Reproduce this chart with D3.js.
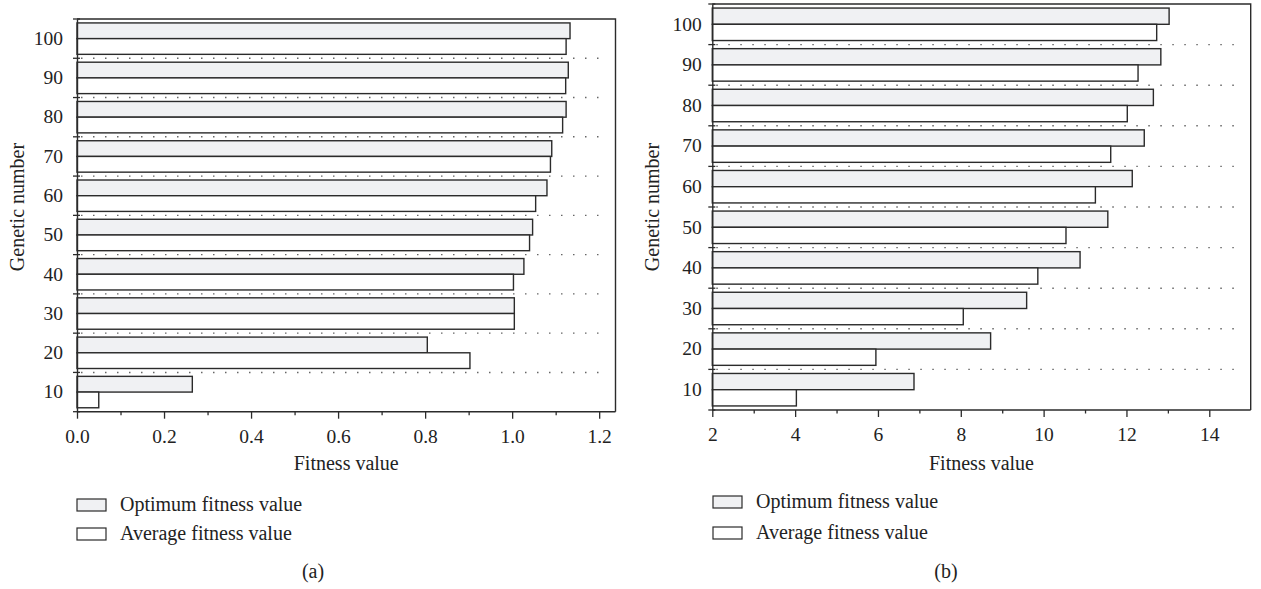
<!DOCTYPE html>
<html>
<head>
<meta charset="utf-8">
<script src="https://cdn.jsdelivr.net/npm/d3@7"></script>
<style>
  html, body { margin: 0; padding: 0; background: #fff; }
  svg { display: block; }
  text { font-family: "Liberation Serif", "DejaVu Serif", serif; fill: #222; }
</style>
</head>
<body>
<svg id="chart" width="1261" height="589"></svg>
<script>
// ---- data ----
const categories = [100, 90, 80, 70, 60, 50, 40, 30, 20, 10];
const seriesNames = ["Optimum fitness value", "Average fitness value"];

const optimumA = [1.133, 1.129, 1.124, 1.091, 1.080, 1.047, 1.027, 1.005, 0.805, 0.265];
const averageA = [1.124, 1.123, 1.116, 1.088, 1.054, 1.040, 1.003, 1.005, 0.903, 0.050];

const optimumB = [13.03, 12.83, 12.65, 12.43, 12.14, 11.55, 10.88, 9.59, 8.72, 6.87];
const averageB = [12.73, 12.28, 12.02, 11.62, 11.25, 10.54, 9.86, 8.06, 5.95, 4.03];

const ticksA = [0, 0.2, 0.4, 0.6, 0.8, 1.0, 1.2];
const tickLabelsA = ["0.0", "0.2", "0.4", "0.6", "0.8", "1.0", "1.2"];
const minorTicksA = [0.1, 0.3, 0.5, 0.7, 0.9, 1.1];

const ticksB = [2, 4, 6, 8, 10, 12, 14];
const tickLabelsB = ["2", "4", "6", "8", "10", "12", "14"];
const minorTicksB = [3, 5, 7, 9, 11, 13];

const xTitle = "Fitness value";
const yTitle = "Genetic number";

// ---- drawing ----
const svg = d3.select("#chart");
const fills = ["#f0f1f3", "#ffffff"];
const stroke = "#2b2b2b";
const fontSize = 19.5;
const titleSize = 20;

function drawPanel(p) {
  const g = svg.append("g");
  const x = d3.scaleLinear().domain(p.xDomain).range([p.left, p.right]);
  const y = d3.scaleBand().domain(categories).range([p.top, p.bottom]).paddingInner(0).paddingOuter(0);
  const bw = y.bandwidth();
  const inner = d3.scaleBand().domain([0, 1]).range([bw * 0.1, bw * 0.9]).padding(0);

  // dotted separators between groups
  const bounds = categories.slice(0, -1).map(c => y(c) + bw);
  g.selectAll(".sep").data(bounds).enter().append("line")
    .attr("x1", p.left + 4).attr("x2", p.right - 8)
    .attr("y1", d => d).attr("y2", d => d)
    .attr("stroke", "#666").attr("stroke-width", 1.4)
    .attr("stroke-dasharray", "1.5,10.5");

  // bars
  const rows = categories.map((c, i) => ({ c, vals: [p.opt[i], p.avg[i]] }));
  const grp = g.selectAll(".grp").data(rows).enter().append("g")
    .attr("transform", d => `translate(0,${y(d.c)})`);
  grp.selectAll("rect").data(d => d.vals.map((v, k) => ({ v, k }))).enter().append("rect")
    .attr("x", x(p.xDomain[0]))
    .attr("y", d => inner(d.k))
    .attr("width", d => x(d.v) - x(p.xDomain[0]))
    .attr("height", inner.bandwidth())
    .attr("fill", d => fills[d.k])
    .attr("stroke", stroke).attr("stroke-width", 1.4);

  // frame (top and right)
  g.append("path")
    .attr("d", `M${p.left},${p.top}H${p.right}V${p.bottom}`)
    .attr("fill", "none").attr("stroke", stroke).attr("stroke-width", 1.4);

  // x axis
  const xAxis = d3.axisBottom(x).tickValues(p.ticks).tickFormat((d, i) => p.tickLabels[i])
    .tickSizeInner(7).tickSizeOuter(0).tickPadding(10);
  const xa = g.append("g").attr("transform", `translate(0,${p.bottom})`).call(xAxis);
  xa.select(".domain").attr("stroke", stroke).attr("stroke-width", 1.4)
    .attr("d", `M${p.left},0H${p.right}`);
  xa.selectAll(".tick line").attr("stroke", stroke).attr("stroke-width", 1.3);
  xa.selectAll(".tick text").attr("font-size", fontSize).attr("font-family", "Liberation Serif").attr("fill", "#222");
  const xMinor = d3.axisBottom(x).tickValues(p.minor).tickFormat("").tickSizeInner(3.5).tickSizeOuter(0);
  const xm = g.append("g").attr("transform", `translate(0,${p.bottom})`).call(xMinor);
  xm.select(".domain").remove();
  xm.selectAll(".tick line").attr("stroke", stroke).attr("stroke-width", 1.3);

  // y axis
  const yAxis = d3.axisLeft(y).tickSizeInner(0).tickSizeOuter(0).tickPadding(p.yPad);
  const ya = g.append("g").attr("transform", `translate(${p.left},0)`).call(yAxis);
  ya.select(".domain").attr("stroke", stroke).attr("stroke-width", 1.4);
  ya.selectAll(".tick text").attr("font-size", fontSize).attr("font-family", "Liberation Serif").attr("fill", "#222");
  // boundary ticks crossing the axis
  const allBounds = [p.top].concat(bounds).concat([p.bottom]);
  g.selectAll(".btick").data(allBounds).enter().append("line")
    .attr("x1", p.left - 4).attr("x2", p.left + 3)
    .attr("y1", d => d).attr("y2", d => d)
    .attr("stroke", stroke).attr("stroke-width", 1.3);

  // titles
  g.append("text").attr("x", (p.left + p.right) / 2).attr("y", p.xTitleY)
    .attr("text-anchor", "middle").attr("font-size", titleSize).text(xTitle);
  g.append("text")
    .attr("transform", `translate(${p.yTitleX},${p.yTitleY}) rotate(-90)`)
    .attr("text-anchor", "middle").attr("font-size", titleSize).text(yTitle);

  // legend
  const lg = g.selectAll(".leg").data(seriesNames).enter().append("g")
    .attr("transform", (d, i) => `translate(${p.legX},${p.legY[i]})`);
  lg.append("rect").attr("x", 0).attr("y", -6).attr("width", 29).attr("height", 12)
    .attr("fill", (d, i) => fills[i]).attr("stroke", stroke).attr("stroke-width", 1.2);
  lg.append("text").attr("x", 43).attr("y", 6).attr("font-size", titleSize).text(d => d);

  // panel label
  g.append("text").attr("x", p.labelX).attr("y", 578).attr("text-anchor", "middle")
    .attr("font-size", titleSize).text(p.label);
}

drawPanel({
  left: 77, right: 615.5, top: 19, bottom: 411.7,
  xDomain: [0, 1.2375], opt: optimumA, avg: averageA,
  ticks: ticksA, tickLabels: tickLabelsA, minor: minorTicksA,
  yPad: 14, xTitleY: 470, yTitleX: 24, yTitleY: 207,
  legX: 77, legY: [505, 534], label: "(a)", labelX: 313
});

drawPanel({
  left: 712.3, right: 1250.7, top: 4, bottom: 410,
  xDomain: [2, 15], opt: optimumB, avg: averageB,
  ticks: ticksB, tickLabels: tickLabelsB, minor: minorTicksB,
  yPad: 10.6, xTitleY: 470, yTitleX: 659, yTitleY: 207,
  legX: 713, legY: [502, 533], label: "(b)", labelX: 946
});
</script>
</body>
</html>
